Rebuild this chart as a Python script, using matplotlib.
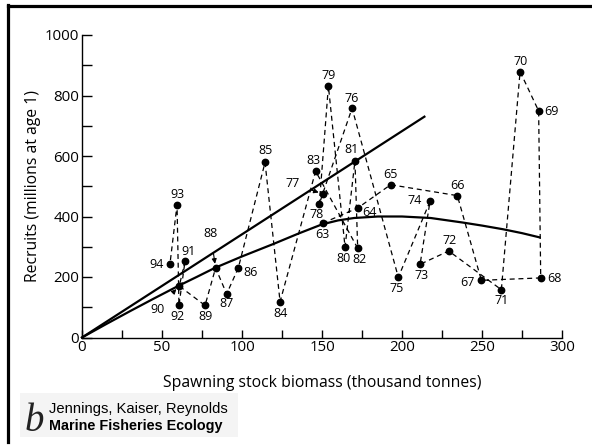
import matplotlib
matplotlib.use("Agg")
import matplotlib.pyplot as plt
from matplotlib.patches import Rectangle
from matplotlib.lines import Line2D

# ---------------- data ----------------
years = [63, 64, 65, 66, 67, 68, 69, 70, 71, 72, 73, 74, 75, 76, 77, 78,
         79, 80, 81, 82, 83, 84, 85, 86, 87, 88, 89, 90, 91, 92, 93, 94]
ssb = [150.4, 172.3, 192.9, 234.6, 249.6, 286.7, 285.4, 273.8, 262.1, 229.2,
       211.3, 217.5, 197.7, 168.8, 150.4, 148.3, 154.0, 164.4, 170.6, 172.3,
       146.0, 123.8, 114.4, 97.7, 90.4, 83.5, 76.9, 60.8, 64.4, 60.6, 59.4, 55.0]
recruits = [378, 428, 505, 469, 189, 197, 749, 879, 158, 286,
            242, 450, 199, 758, 475, 440, 831, 299, 584, 295,
            550, 118, 579, 230, 144, 230, 106, 170, 253, 106, 439, 244]

# straight (density-independent) line, read endpoints
line_ssb = [0, 214]
line_rec = [0, 730]

# fitted stock-recruit curve
curve_ssb = [0, 15, 30, 45, 60, 72, 83, 100, 120, 135, 150, 160, 170, 185, 200,
             218, 238, 250, 263, 275, 286]
curve_rec = [0, 44, 87, 129, 170, 201, 230, 268, 310, 343, 374, 387, 395, 400, 400,
             395, 380, 370, 358, 345, 331]

x_ticks = [0, 50, 100, 150, 200, 250, 300]
y_ticks = [0, 200, 400, 600, 800, 1000]

# label placement (pixel offsets from each point) -- layout only
label_offsets = {
    63: (0, -11), 64: (12, -4), 65: (0, 10), 66: (0, 10), 67: (-14, -2),
    68: (14, -1), 69: (13, -1), 70: (0, 10), 71: (0, -11), 72: (1, 10),
    73: (1, -11), 74: (-15, 1), 75: (-2, -11), 76: (0, 10), 78: (-3, -10),
    79: (0, 11), 80: (-2, -11), 81: (-3, 11), 82: (2, -11), 83: (-2, 11),
    84: (0, -12), 85: (0, 12), 86: (12, -5), 87: (0, -10), 89: (0, -11),
    91: (3, 9), 92: (-1, -11), 93: (0, 10), 94: (-13, -1),
}
arrow_labels = {77: (-30, 10), 88: (-5, 34), 90: (-22, -23)}

# ---------------- figure ----------------
W, H = 592, 445
fig = plt.figure(figsize=(W / 100, H / 100), dpi=100)
fig.patch.set_facecolor("white")

FONT = ["Open Sans", "DejaVu Sans"]

# page border (left and top)
fig.add_artist(Line2D([7.5 / W, 7.5 / W], [1 - 5 / H, 1 - 442 / H],
                      transform=fig.transFigure, color="black", lw=2.3,
                      solid_capstyle="projecting"))
fig.add_artist(Line2D([7.5 / W, 1.0], [1 - 5.5 / H, 1 - 5.5 / H],
                      transform=fig.transFigure, color="black", lw=2.3,
                      solid_capstyle="projecting"))

# faint credit background
fig.add_artist(Rectangle((20 / W, 1 - 437 / H), 218 / W, 44 / H,
                         transform=fig.transFigure, facecolor="#f4f4f4",
                         edgecolor="none", zorder=0))

ax = fig.add_axes([82 / W, 1 - 337.5 / H, 480 / W, 302.5 / H])
ax.set_xlim(0, 300)
ax.set_ylim(0, 1000)
for s in ("top", "right"):
    ax.spines[s].set_visible(False)
for s in ("left", "bottom"):
    ax.spines[s].set_linewidth(1.0)

ax.set_xticks(x_ticks)
ax.set_xticks([25, 75, 125, 175, 225, 275], minor=True)
ax.set_yticks(y_ticks)
ax.set_yticks([100, 300, 500, 700, 900], minor=True)
ax.tick_params(axis="both", which="both", direction="in", width=1.0,
               length=6, labelsize=10.8, pad=2)
ax.tick_params(axis="y", which="both", length=7)
for lab in ax.get_xticklabels() + ax.get_yticklabels():
    lab.set_family(FONT)

ax.set_xlabel("Spawning stock biomass (thousand tonnes)", family=FONT,
              fontsize=11.3, labelpad=14)
ax.set_ylabel("Recruits (millions at age 1)", family=FONT, fontsize=11.3,
              labelpad=3)

# time-series path
ax.plot(ssb, recruits, linestyle=(0, (4, 3)), color="black", lw=0.9,
        zorder=2, clip_on=False)
ax.plot(ssb, recruits, linestyle="none", marker="o", markersize=4.6,
        color="black", zorder=4, clip_on=False)

# fitted lines
ax.plot(line_ssb, line_rec, color="black", lw=1.6, zorder=3, clip_on=False,
        solid_joinstyle="round")
ax.plot(curve_ssb, curve_rec, color="black", lw=1.6, zorder=3, clip_on=False,
        solid_joinstyle="round")

# labels
for yr, xs, ys in zip(years, ssb, recruits):
    if yr in label_offsets:
        dx, dy = label_offsets[yr]
        ax.annotate(str(yr), (xs, ys), xytext=(dx, dy),
                    textcoords="offset pixels", ha="center", va="center",
                    fontsize=9, family=FONT, zorder=5)
    else:
        dx, dy = arrow_labels[yr]
        ax.annotate(str(yr), (xs, ys), xytext=(dx, dy),
                    textcoords="offset pixels", ha="center", va="center",
                    fontsize=9, family=FONT, zorder=5,
                    arrowprops=dict(arrowstyle="-|>", color="black", lw=0.8,
                                    shrinkA=7, shrinkB=3,
                                    mutation_scale=7))

# credit
fig.text(25 / W, 1 - 431 / H, "b", family=["Liberation Serif", "DejaVu Serif"],
         style="italic", fontsize=28, ha="left", va="baseline", color="#222222")
fig.text(49 / W, 1 - 413 / H, "Jennings, Kaiser, Reynolds",
         family=["Liberation Sans", "DejaVu Sans"], fontsize=10.6,
         ha="left", va="baseline")
fig.text(49 / W, 1 - 430 / H, "Marine Fisheries Ecology",
         family=["Liberation Sans", "DejaVu Sans"], fontsize=10.4,
         weight="bold", ha="left", va="baseline")

fig.savefig("out.png", dpi=100, facecolor="white")
